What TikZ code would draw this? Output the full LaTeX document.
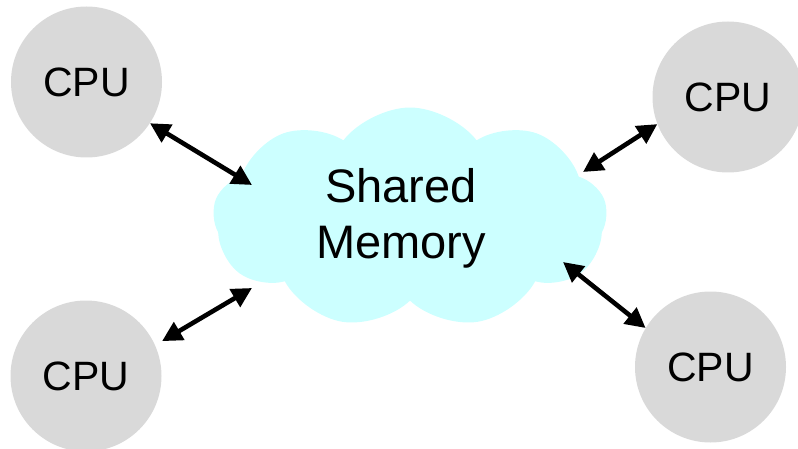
\documentclass[tikz,border=0pt]{standalone}
\usepackage{fontspec}
\setmainfont{Liberation Sans}
\usetikzlibrary{shapes.symbols,arrows.meta}
\definecolor{cpugray}{HTML}{D9D9D9}
\definecolor{memcyan}{HTML}{CCFFFF}

\begin{document}
\begin{tikzpicture}[x=1pt,y=-1pt,
  cpu/.style={circle,fill=cpugray,minimum size=151pt,inner sep=0pt,font=\fontsize{41}{49}\selectfont},
  mem/.style={cloud,cloud puffs=9,cloud puff arc=105,cloud ignores aspect,fill=memcyan,minimum width=394pt,minimum height=221pt,inner sep=0pt},
  link/.style={{Triangle[length=20pt,width=20pt]}-{Triangle[length=20pt,width=20pt]},line width=4.6pt}]
\useasboundingbox (0,0) rectangle (798,449);
\node[mem,label={[font=\fontsize{47}{56}\selectfont,align=center,xshift=-9pt]center:Shared\\Memory}] (mem) at (410,218) {};
\node[cpu] (cpu1) at (86.5,82) {CPU};
\node[cpu] (cpu2) at (728,97) {CPU};
\node[cpu] (cpu3) at (86,376) {CPU};
\node[cpu] (cpu4) at (710.5,367) {CPU};
% ends on the cloud side
\coordinate (m1) at (252,185);
\coordinate (m2) at (583,172);
\coordinate (m3) at (252,288);
\coordinate (m4) at (563,262);
\draw[link] (cpu1.-33) -- (m1);
\draw[link] (cpu2.-159) -- (m2);
\draw[link,shorten <=8pt] (cpu3.24) -- (m3);
\draw[link] (cpu4.149) -- (m4);
\end{tikzpicture}
\end{document}
